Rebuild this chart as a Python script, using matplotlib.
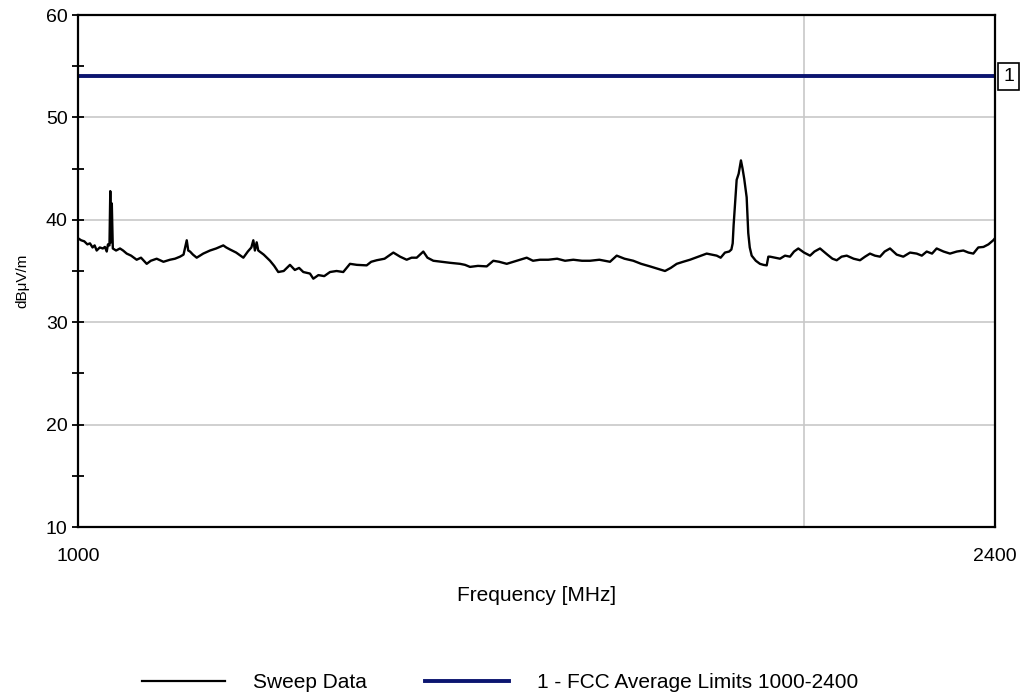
"""EMC radiated emissions sweep, 1-2.4 GHz, against the FCC average limit."""

import matplotlib
matplotlib.use("Agg")
import matplotlib.pyplot as plt
from matplotlib.lines import Line2D
from matplotlib.ticker import FixedLocator, NullLocator

plt.rcParams["font.family"] = ["Liberation Sans", "DejaVu Sans"]

# Sweep data: frequency [MHz] and level [dBuV/m]
sweep_freq = [
    1000, 1003, 1006, 1009, 1011.5, 1014, 1016, 1018, 1021, 1024, 1026, 1027.8,
    1029, 1030.5, 1031.3, 1032.0, 1032.8, 1033.8, 1037, 1040.9, 1044, 1047.6,
    1052, 1057.6, 1062, 1067.8, 1072, 1078, 1085, 1091.8, 1097, 1102.3, 1106,
    1109.4, 1111, 1112.9, 1116, 1120, 1127, 1134.3, 1141, 1148.8, 1152, 1156.2,
    1163, 1171, 1176, 1180, 1182.2, 1184, 1186, 1187.8, 1194, 1201.2, 1206,
    1210.7, 1217, 1224.3, 1230, 1235, 1240, 1247.9, 1251.9, 1258, 1265, 1272,
    1280, 1288.2, 1296.5, 1305, 1317.3, 1323, 1330, 1340, 1351.3, 1360, 1368.6,
    1375, 1381.8, 1390.5, 1396, 1403.9, 1415, 1426.4, 1440.1, 1447, 1453.9,
    1465, 1477.3, 1486.6, 1495, 1505.8, 1520, 1534.8, 1544, 1554.4, 1566.8,
    1580, 1592, 1604.6, 1618, 1630.4, 1645, 1661.8, 1672.5, 1685, 1699.2, 1712,
    1726.5, 1740, 1751.4, 1761, 1771.1, 1782, 1793.7, 1808, 1822.5, 1831, 1840,
    1847, 1854.6, 1862, 1866, 1868.3, 1870, 1872.4, 1875.4, 1879, 1883.1, 1886,
    1889, 1893.4, 1896.3, 1899, 1902.5, 1910, 1917.6, 1924, 1930, 1933, 1936.1,
    1945, 1954.7, 1964, 1973.4, 1981, 1989.1, 2000, 2011.5, 2020, 2030.8, 2045,
    2055, 2063.4, 2073, 2083.2, 2097, 2109.8, 2120, 2130, 2140, 2150.5, 2160,
    2171.1, 2185, 2198.8, 2213, 2227.1, 2238, 2248.5, 2260, 2270, 2285, 2299.1,
    2314, 2328.5, 2340, 2350.8, 2362, 2373.7, 2385, 2396, 2400,
]
sweep_level = [
    38.2, 38.0, 37.9, 37.6, 37.7, 37.3, 37.5, 37.0, 37.3, 37.2, 37.35, 36.9,
    37.6, 37.5, 42.8, 37.8, 41.6, 37.2, 37.0, 37.2, 37.0, 36.7,
    36.5, 36.1, 36.3, 35.7, 36.0, 36.2, 35.9, 36.1, 36.2, 36.4, 36.6,
    38.0, 37.0, 36.9, 36.6, 36.3, 36.7, 37.0, 37.2, 37.5, 37.3, 37.1,
    36.8, 36.3, 36.9, 37.3, 38.0, 37.0, 37.8, 37.0, 36.6, 36.0, 35.5,
    34.9, 35.0, 35.6, 35.1, 35.3, 34.9, 34.75, 34.25, 34.6, 34.5, 34.9,
    35.0, 34.9, 35.7, 35.6, 35.55, 35.9, 36.05, 36.2, 36.8, 36.4, 36.1,
    36.3, 36.3, 36.9, 36.3, 36.0, 35.9, 35.8, 35.7, 35.6, 35.4,
    35.5, 35.45, 36.0, 35.9, 35.7, 36.0, 36.3, 36.0, 36.1, 36.1,
    36.2, 36.0, 36.1, 36.0, 36.0, 36.1, 35.9, 36.5, 36.2, 36.0, 35.7,
    35.45, 35.2, 35.0, 35.3, 35.7, 35.9, 36.1, 36.4, 36.7, 36.6, 36.5,
    36.3, 36.8, 36.9, 37.1, 37.7, 39.5, 41.5, 43.9, 44.5, 45.8, 45.0,
    44.0, 42.2, 38.7, 37.3, 36.5, 36.0, 35.7, 35.6, 35.55, 36.4, 36.4,
    36.3, 36.2, 36.5, 36.4, 36.9, 37.2, 36.8, 36.5, 36.9, 37.2, 36.6,
    36.2, 36.05, 36.4, 36.5, 36.2, 36.05, 36.4, 36.7, 36.5, 36.4, 36.9,
    37.2, 36.6, 36.4, 36.8, 36.7, 36.5, 36.9, 36.7, 37.2, 36.9, 36.7,
    36.9, 37.0, 36.8, 36.7, 37.3, 37.35, 37.6, 38.0, 38.2,
]

# Limit line
limit_name = "1 - FCC Average Limits 1000-2400"
limit_freq = [1000, 2400]
limit_level = [54, 54]

x_ticks = [1000, 2400]
x_grid = [2000]
y_major = [10, 20, 30, 40, 50, 60]
y_minor = [15, 25, 35, 45, 55]

NAVY = "#0b1570"
GRID = "#c8c8c8"

fig = plt.figure(figsize=(10.23, 6.98), dpi=100)
ax = fig.add_axes([78 / 1023, 1 - 527 / 698, 917 / 1023, 512 / 698])

ax.set_xscale("log")
ax.set_xlim(1000, 2400)
ax.set_ylim(10, 60)

# grid: horizontal at the major y ticks, one vertical at 2 GHz
for y in y_major[1:-1]:
    ax.axhline(y, color=GRID, lw=1.2, zorder=0)
for x in x_grid:
    ax.axvline(x, color=GRID, lw=1.2, zorder=0)

ax.plot(sweep_freq, sweep_level, color="black", lw=1.7, zorder=3)
ax.plot(limit_freq, limit_level, color=NAVY, lw=2.8, zorder=2,
        solid_capstyle="butt")

# limit tag on the right edge
ax.annotate("1", xy=(1.0, 54), xycoords=("axes fraction", "data"),
            xytext=(9.7, 0), textcoords="offset points", ha="center",
            va="center", fontsize=14,
            bbox=dict(boxstyle="square,pad=0.25", fc="white", ec="black",
                      lw=1.2))

ax.xaxis.set_major_locator(FixedLocator(x_ticks))
ax.xaxis.set_minor_locator(NullLocator())
ax.set_xticklabels([str(t) for t in x_ticks])
ax.yaxis.set_major_locator(FixedLocator(y_major))
ax.yaxis.set_minor_locator(FixedLocator(y_minor))

ax.tick_params(axis="x", which="both", length=0, pad=15, labelsize=14)
ax.tick_params(axis="y", which="major", direction="inout", length=9,
               width=1.3, labelsize=14, pad=3)
ax.tick_params(axis="y", which="minor", direction="inout", length=9,
               width=1.3)

for s in ax.spines.values():
    s.set_linewidth(1.6)
    s.set_color("black")

ax.set_xlabel("Frequency [MHz]", fontsize=15, labelpad=15)
ax.set_ylabel("dB\u03bcV/m", fontsize=11, va="center")
ax.yaxis.set_label_coords(-0.061, 0.48)

handles = [
    Line2D([], [], color="black", lw=1.6),
    Line2D([], [], color=NAVY, lw=2.8),
]
fig.legend(handles, ["Sweep Data", limit_name], loc="center",
           bbox_to_anchor=(500 / 1023, 1 - 683 / 698), ncol=2,
           frameon=False, fontsize=15, handlelength=4.0,
           handletextpad=1.35, columnspacing=2.8)

fig.savefig("out.png", dpi=100)
